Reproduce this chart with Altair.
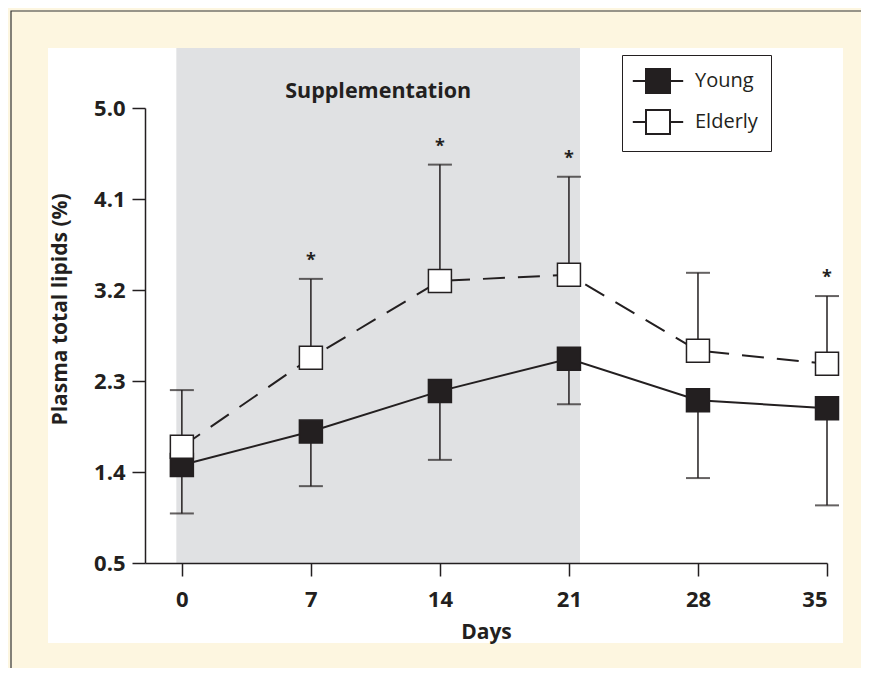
import altair as alt
import pandas as pd

# ---- data ----
days = [0, 7, 14, 21, 28, 35]
young_mean = [1.47, 1.80, 2.20, 2.52, 2.11, 2.03]
young_lower = [0.99, 1.26, 1.52, 2.07, 1.34, 1.07]
elderly_mean = [1.65, 2.53, 3.29, 3.35, 2.60, 2.47]
elderly_upper = [2.21, 3.31, 4.44, 4.32, 3.37, 3.14]
significant = [False, True, True, True, False, True]
groups = ["Young", "Elderly"]
supplement_period = [-0.3, 21.6]
y_ticks = [0.5, 1.4, 2.3, 3.2, 4.1, 5.0]
x_ticks = [0, 7, 14, 21, 28, 35]

DARK = "#231F20"
CREAM = "#FDF6E0"
GRAY = "#E0E1E3"
FONT = "Open Sans"

rows = []
for d, m, e in zip(days, young_mean, young_lower):
    rows.append({"day": d, "group": "Young", "mean": m, "err": e, "sig": False})
for d, m, e, s in zip(days, elderly_mean, elderly_upper, significant):
    rows.append({"day": d, "group": "Elderly", "mean": m, "err": e, "sig": s})
df = pd.DataFrame(rows)

shade_df = pd.DataFrame({"start": [supplement_period[0]], "end": [supplement_period[1]],
                         "mid": [(supplement_period[0] + supplement_period[1]) / 2],
                         "label": ["Supplementation"]})
one = pd.DataFrame({"a": [0]})

xscale = alt.Scale(domain=[-2, 35], nice=False, zero=False)
yscale = alt.Scale(domain=[0.5, 5.0], nice=False, zero=False)

xaxis = alt.Axis(values=x_ticks, title="Days", tickSize=13, labelPadding=13,
                 titlePadding=11, zindex=1, grid=False)
yaxis = alt.Axis(values=y_ticks, format=".1f", title="Plasma total lipids (%)",
                 tickSize=13, labelPadding=7, zindex=1, grid=False,
                 titleX=-85, titleY=201, titleAngle=270, titleAlign="center",
                 titleBaseline="middle")

base = alt.Chart(df)

frame = alt.Chart(one).mark_rect(fill=CREAM, stroke="#333333", strokeWidth=1.2).encode(
    x=alt.value(-134), x2=alt.value(1400), y=alt.value(-97), y2=alt.value(1400))

panel = alt.Chart(one).mark_rect(fill="white").encode(
    x=alt.value(-97), x2=alt.value(698), y=alt.value(-60), y2=alt.value(535))

shade = alt.Chart(shade_df).mark_rect(fill=GRAY).encode(
    x=alt.X("start:Q", scale=xscale, axis=xaxis),
    x2="end:Q",
    y=alt.value(455),
    y2=alt.value(-60))

young_line = base.transform_filter(alt.datum.group == "Young").mark_line(
    color=DARK, strokeWidth=2).encode(
    x=alt.X("day:Q", scale=xscale, axis=xaxis),
    y=alt.Y("mean:Q", scale=yscale, axis=yaxis))

elderly_line = base.transform_filter(alt.datum.group == "Elderly").mark_line(
    color=DARK, strokeWidth=2, strokeDash=[22, 13]).encode(
    x=alt.X("day:Q", scale=xscale),
    y=alt.Y("mean:Q", scale=yscale))

err_rule = base.mark_rule(color=DARK, strokeWidth=1.5).encode(
    x=alt.X("day:Q", scale=xscale),
    y=alt.Y("mean:Q", scale=yscale),
    y2="err:Q")

caps = base.mark_tick(color=DARK, orient="horizontal", size=24, thickness=2).encode(
    x=alt.X("day:Q", scale=xscale),
    y=alt.Y("err:Q", scale=yscale))

legend = alt.Legend(
    title=None, orient="none", legendX=477, legendY=-53,
    symbolType="M-2.1,0H-1M1,0H2.1M-1,-1H1V1H-1Z", symbolSize=576,
    symbolStrokeColor=DARK, symbolStrokeWidth=2, symbolOffset=10,
    labelFont=FONT, labelFontSize=20, labelFontWeight="normal", labelColor=DARK,
    labelOffset=24, rowPadding=9, padding=13,
    strokeColor=DARK, fillColor="white")

squares = base.mark_square(size=529, stroke=DARK, strokeWidth=1.5, opacity=1).encode(
    x=alt.X("day:Q", scale=xscale),
    y=alt.Y("mean:Q", scale=yscale),
    fill=alt.Fill("group:N", scale=alt.Scale(domain=groups, range=[DARK, "white"]),
                  legend=legend))

stars = base.transform_filter(alt.datum.sig).mark_text(
    text="*", font=FONT, fontSize=18, fontWeight="bold", color=DARK,
    baseline="alphabetic", dy=-13).encode(
    x=alt.X("day:Q", scale=xscale),
    y=alt.Y("err:Q", scale=yscale))

supp_label = alt.Chart(shade_df).mark_text(
    font=FONT, fontSize=21.5, fontWeight="bold", color=DARK,
    baseline="alphabetic").encode(
    x=alt.X("mid:Q", scale=xscale),
    y=alt.value(-10),
    text="label:N")

chart = alt.layer(
    frame, panel, shade, young_line, elderly_line, err_rule, caps, squares, stars, supp_label
).properties(
    width=682, height=455,
    padding={"left": 137, "top": 100, "right": 34, "bottom": 105},
    autosize=alt.AutoSizeParams(type="none"),
    background=CREAM,
).configure_view(stroke=None).configure_axis(
    domainColor=DARK, domainWidth=1.5, tickColor=DARK, tickWidth=1.5,
    labelFont=FONT, labelFontSize=22, labelFontWeight="bold", labelColor=DARK,
    titleFont=FONT, titleFontSize=21, titleFontWeight="bold", titleColor=DARK,
)

chart.save("out.html", embed_options={"renderer": "svg", "actions": False})
